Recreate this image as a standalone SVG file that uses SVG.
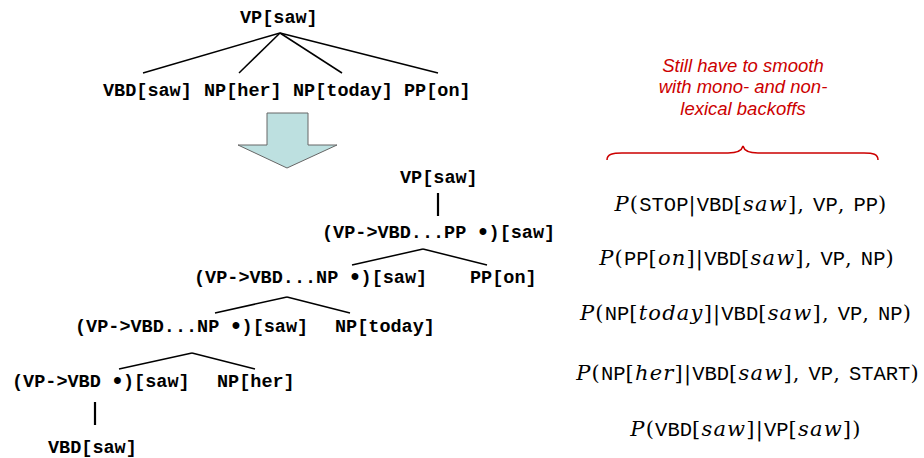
<svg xmlns="http://www.w3.org/2000/svg" width="924" height="458" viewBox="0 0 924 458">
<style>
.n{font-family:"Liberation Mono",monospace;font-weight:bold;font-size:18.5px;fill:#000}
.d{font-size:24px}
.e{stroke:#000;stroke-width:1.5;fill:none}
.v{stroke:#000;stroke-width:2.2;fill:none}
.note{font-family:"Liberation Sans",Arial,sans-serif;font-style:italic;font-size:18.5px;fill:#cc0000}
.m{font-family:"DejaVu Serif",serif;font-size:21px;letter-spacing:1.2px;fill:#000}
.i{font-style:italic}
.t{font-family:"Liberation Mono",monospace;font-size:20.5px;letter-spacing:0}
</style>
<rect width="924" height="458" fill="#fff"/>
<g id="connectors">
<line class="e" x1="280" y1="33" x2="143" y2="73"/>
<line class="e" x1="280" y1="33" x2="239" y2="73"/>
<line class="e" x1="280" y1="33" x2="342" y2="73"/>
<line class="e" x1="280" y1="33" x2="438" y2="73"/>
<line class="v" x1="438" y1="193" x2="438" y2="216"/>
<line class="e" x1="423" y1="249" x2="352" y2="265"/>
<line class="e" x1="423" y1="249" x2="487" y2="265"/>
<line class="e" x1="287" y1="297" x2="215" y2="313"/>
<line class="e" x1="287" y1="297" x2="350" y2="313"/>
<line class="e" x1="192" y1="353" x2="119" y2="369"/>
<line class="e" x1="192" y1="353" x2="255" y2="369"/>
<line class="v" x1="95" y1="402" x2="95" y2="425"/>
</g>
<g id="t-vp"><text class="n" x="240" y="23">VP[saw]</text></g>
<g id="t-vbd"><text class="n" x="103" y="96">VBD[saw]</text></g>
<g id="t-np-her"><text class="n" x="204" y="96">NP[her]</text></g>
<g id="t-np-today"><text class="n" x="293" y="96">NP[today]</text></g>
<g id="t-pp-on"><text class="n" x="404" y="96">PP[on]</text></g>
<g id="arrow"><polygon points="267,113 308,113 308,145 337,145 287,168 238,145 267,145" fill="#bde0e0" stroke="#666" stroke-width="1"/></g>
<g id="b-vp"><text class="n" x="400" y="183">VP[saw]</text></g>
<g id="b-pp-dot"><text class="n" x="322" y="238">(VP-&gt;VBD...PP <tspan class="d" dx="-1.6" dy="2">•</tspan><tspan dx="-1.7" dy="-2">)[saw]</tspan></text></g>
<g id="b-np-dot1"><text class="n" x="194" y="283">(VP-&gt;VBD...NP <tspan class="d" dx="-1.6" dy="2">•</tspan><tspan dx="-1.7" dy="-2">)[saw]</tspan></text></g>
<g id="b-pp-on"><text class="n" x="470" y="283">PP[on]</text></g>
<g id="b-np-dot2"><text class="n" x="75" y="332">(VP-&gt;VBD...NP <tspan class="d" dx="-1.6" dy="2">•</tspan><tspan dx="-1.7" dy="-2">)[saw]</tspan></text></g>
<g id="b-np-today"><text class="n" x="335" y="332">NP[today]</text></g>
<g id="b-vbd-dot"><text class="n" x="12" y="387">(VP-&gt;VBD <tspan class="d" dx="-1.6" dy="2">•</tspan><tspan dx="-1.7" dy="-2">)[saw]</tspan></text></g>
<g id="b-np-her"><text class="n" x="217" y="387">NP[her]</text></g>
<g id="b-vbd"><text class="n" x="48" y="453">VBD[saw]</text></g>
<g id="note">
<text class="note" text-anchor="middle" x="743" y="72">Still have to smooth</text>
<text class="note" text-anchor="middle" x="743" y="93">with mono- and non-</text>
<text class="note" text-anchor="middle" x="743" y="115">lexical backoffs</text>
<path d="M607,160 C607,154 613,153 622,153 L728,153 C737,153 742,150 743,146 C744,150 749,153 758,153 L864,153 C873,153 878,154 878,160" fill="none" stroke="#cc0000" stroke-width="1.5"/>
</g>
<g id="formulas">
<text class="m" text-anchor="middle" x="751" y="211"><tspan class="i">P</tspan>(<tspan class="t">STOP</tspan>|<tspan class="t">VBD</tspan>[<tspan class="i">saw</tspan>], <tspan class="t">VP</tspan>, <tspan class="t">PP</tspan>)</text>
<text class="m" text-anchor="middle" x="747" y="265"><tspan class="i">P</tspan>(<tspan class="t">PP</tspan>[<tspan class="i">on</tspan>]|<tspan class="t">VBD</tspan>[<tspan class="i">saw</tspan>], <tspan class="t">VP</tspan>, <tspan class="t">NP</tspan>)</text>
<text class="m" text-anchor="middle" x="746" y="320"><tspan class="i">P</tspan>(<tspan class="t">NP</tspan>[<tspan class="i">today</tspan>]|<tspan class="t">VBD</tspan>[<tspan class="i">saw</tspan>], <tspan class="t">VP</tspan>, <tspan class="t">NP</tspan>)</text>
<text class="m" text-anchor="middle" x="748" y="380"><tspan class="i">P</tspan>(<tspan class="t">NP</tspan>[<tspan class="i">her</tspan>]|<tspan class="t">VBD</tspan>[<tspan class="i">saw</tspan>], <tspan class="t">VP</tspan>, <tspan class="t">START</tspan>)</text>
<text class="m" text-anchor="middle" x="746" y="436"><tspan class="i">P</tspan>(<tspan class="t">VBD</tspan>[<tspan class="i">saw</tspan>]|<tspan class="t">VP</tspan>[<tspan class="i">saw</tspan>])</text>
</g>
</svg>
